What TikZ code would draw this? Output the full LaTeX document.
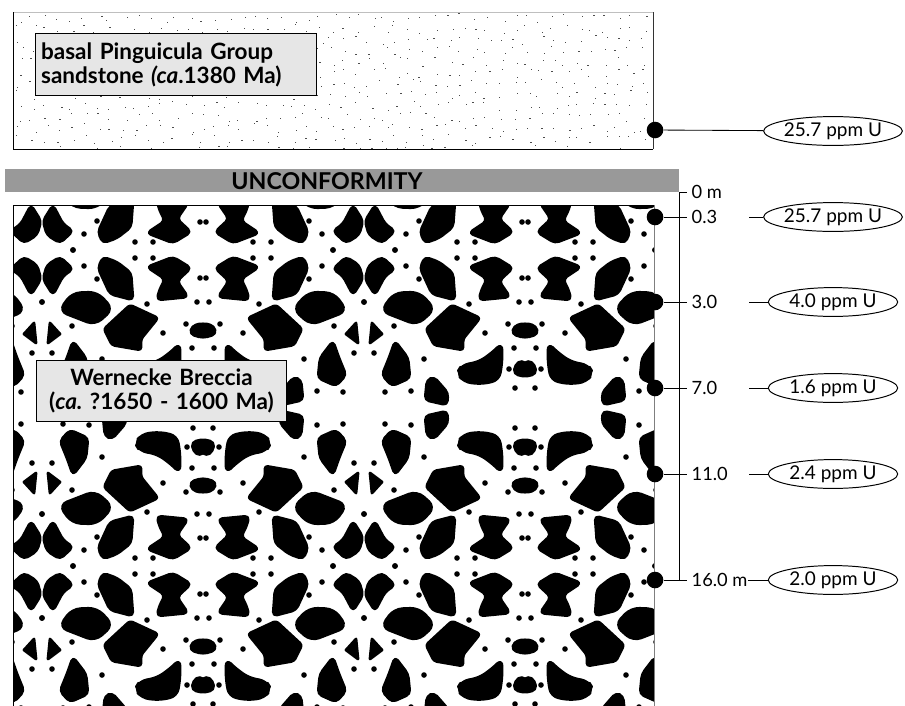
\documentclass[tikz,border=0pt]{standalone}
\usepackage{fontspec}
\setmainfont{Lato}
\usepackage{xcolor}
\usepackage{tikz}
\usetikzlibrary{positioning,shapes.geometric}

\definecolor{barcol}{HTML}{999999}
\definecolor{boxcol}{HTML}{E6E6E6}
\definecolor{rimcol}{HTML}{7F7F7F}

% one quarter cell of the breccia fabric (mirrored and repeated below)
\newcommand{\brecciacell}{%
  \filldraw[rounded corners=3pt] (18,33) -- (28,22) -- (46,30) -- (44,50) -- (31,67) -- (25,50) -- cycle;
  \filldraw[rounded corners=3pt] (61,8) -- (83,3) -- (84,15) -- (70,31) -- (63,28) -- cycle;
  \filldraw[rounded corners=5pt] (93,35) -- (100,26) -- (118,24) -- (135,28) -- (138,45) -- (138,65) -- (129,56) -- (115,46) -- (98,43) -- cycle;
  \filldraw[rounded corners=3pt] (150,34) -- (163,31) -- (166,40) -- (158,48) -- (151,43) -- cycle;
  \filldraw (6,65) -- (18,74) -- (8,85) -- cycle;
  \filldraw[rounded corners=2pt] (70,63) -- (99,58) -- (99,69) -- (116,90) -- (88,103) -- (62,79) -- cycle;
  \filldraw[rounded corners=3pt] (148,74) -- (161,70) -- (173,77) -- (161,85) -- (150,82) -- cycle;
  \filldraw[rounded corners=6pt] (17,97) -- (53,83) -- (71,99) -- (55,116) -- (30,115) -- cycle;
  \filldraw[rounded corners=3pt] (115,108) -- (146,111) -- (135,127) -- (149,140) -- (131,151) -- (105,141) -- (123,129) -- (117,117) -- cycle;
  \filldraw[rounded corners=3pt] (56,140) -- (68,114) -- (91,108) -- (89,135) -- (75,146) -- (61,151) -- cycle;
  \filldraw[rounded corners=3pt] (1,129) -- (11,113) -- (21,132) -- (31,139) -- (18,151) -- (5,143) -- cycle;
  \foreach \u/\v in {10/55, 60/49, 145/39, 150/60, 121/75, 30/82, 144/84, 0/106, 105/104, 21/16, 47/17,
                     155/106, 55/129, 158/130, 42/142, 93/150, 111/150, 31/158, 151/20}
    \fill (\u,\v) circle (2.8);
}

\begin{document}
\begin{tikzpicture}[x=0.025cm,y=-0.025cm,line width=0.6pt,
    sample/.style={circle,fill=black,inner sep=0pt,minimum size=11.8pt},
    ppm/.style={ellipse,draw,line width=0.7pt,inner sep=0pt,minimum width=92pt,minimum height=20.5pt,font=\fontsize{13.5}{15}\selectfont},
    depth/.style={inner sep=0pt,font=\fontsize{13}{15}\selectfont},
    unitbox/.style={draw,fill=boxcol,line width=0.7pt,inner xsep=4pt,font=\bfseries\fontsize{16}{17}\selectfont}]

    \useasboundingbox (0,0) rectangle (905,705);

    % Sandstone
    \begin{scope}
      \clip (13,12) rectangle (653,149);
      \pgfmathsetseed{17}
      \foreach \cx in {0,...,49}
        \foreach \cy in {0,...,12}
          \fill[black!70] (15+13*\cx+9*rnd,13+11*\cy+9*rnd) rectangle ++(1.2,1);
    \end{scope}
    \draw[black!25] (13,12) -- (653,12);
    \draw (13,12) -- (13,149) -- (653,149);
    \draw[black!80] (653,12) -- (653,149);
    \node [unitbox,anchor=west,text width=192pt,align=left,minimum height=44.6pt] at (35,64.5) (sand)
      {basal Pinguicula Group\\sandstone \textit{(ca}.1380 Ma)};

    % Unconformity
    \fill[barcol] (5,169) rectangle (679,192);
    \node [font=\bfseries\fontsize{16.5}{18}\selectfont,inner sep=0pt] at (327,181) (unc) {UNCONFORMITY};

    % Breccia
    \begin{scope}[line width=2pt,line join=round]
      \clip (13,205) rectangle (654,706);
      \foreach \i in {0,1,2}
        \foreach \j in {-1,0,1}
          \foreach \sx/\sy in {1/1,-1/1,1/-1,-1/-1} {
            \begin{scope}[shift={(42+322*\i,408+316*\j)},xscale=\sx,yscale=\sy]
              \brecciacell
            \end{scope}
          }
    \end{scope}
    \draw (13,706) -- (13,205) -- (654,205);
    \draw[rimcol] (654,205) -- (654,706);
    \node [unitbox,text width=170pt,align=center,minimum height=44pt] at (161.5,391) (wern)
      {Wernecke Breccia\\(\textit{ca.}\ ?1650 - 1600 Ma)};

    % Depth scale
    \coordinate (top) at (679,192);
    \coordinate (bot) at (679,580);
    \coordinate (t0) at (687,192);
    \draw (bot) -- (top) -- (t0);
    \node [depth,right=3pt of t0] (d0) {0 m};

    % Samples
    \node [sample] at (655,130) (s0) {};
    \node [ppm] at (833,131) (e0) {25.7 ppm U};
    \draw (s0) -- (e0);

    \foreach \n/\y/\dep/\val in {1/217/0.3/25.7, 2/302/3.0/4.0, 3/388/7.0/1.6, 4/474/11.0/2.4} {
      \node [sample] at (655,\y) (s\n) {};
      \coordinate (t\n) at (687,\y);
      \coordinate (g\n) at (749,\y);
      \node [depth,right=3pt of t\n] (d\n) {\dep};
      \node [ppm] at (833,\y) (e\n) {\val{} ppm U};
      \draw (s\n) -- (t\n);
      \draw (g\n) -- (e\n);
    }

    \node [sample] at (655,580) (s5) {};
    \coordinate (t5) at (687,580);
    \node [depth,right=3pt of t5] (d5) {16.0 m};
    \node [ppm] at (833,580) (e5) {2.0 ppm U};
    \draw (s5) -- (t5);
    \draw (d5) -- (e5);

\end{tikzpicture}
\end{document}
